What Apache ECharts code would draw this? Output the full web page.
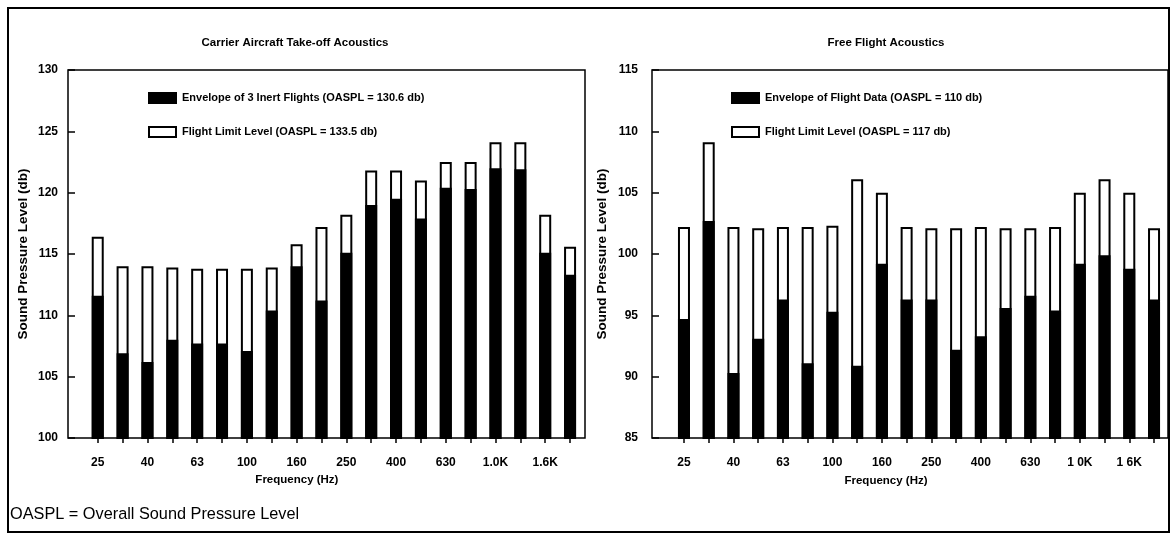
<!DOCTYPE html>
<html>
<head>
<meta charset="utf-8">
<script src="https://cdn.jsdelivr.net/npm/echarts@6/dist/echarts.min.js"></script>
<style>
html,body{margin:0;padding:0;background:#fff;}
#c{width:1171px;height:534px;}
</style>
</head>
<body>
<div id="c"></div>
<script>
// ---- data ----
const freqLabels = ['25','31.5','40','50','63','80','100','125','160','200','250','315','400','500','630','800','1.0K','1.25K','1.6K','2.0K'];
const freqLabelsRight = ['25','31.5','40','50','63','80','100','125','160','200','250','315','400','500','630','800','1 0K','1.25K','1 6K','2.0K'];

const carrierEnvelope = [111.6, 106.9, 106.2, 108.0, 107.7, 107.7, 107.1, 110.4, 114.0, 111.2, 115.1, 119.0, 119.5, 117.9, 120.4, 120.3, 122.0, 121.9, 115.1, 113.3];
const carrierLimit    = [116.4, 114.0, 114.0, 113.9, 113.8, 113.8, 113.8, 113.9, 115.8, 117.2, 118.2, 121.8, 121.8, 121.0, 122.5, 122.5, 124.1, 124.1, 118.2, 115.6];

const freeEnvelope = [94.7, 102.7, 90.3, 93.1, 96.3, 91.1, 95.3, 90.9, 99.2, 96.3, 96.3, 92.2, 93.3, 95.6, 96.6, 95.4, 99.2, 99.9, 98.8, 96.3];
const freeLimit    = [102.2, 109.1, 102.2, 102.1, 102.2, 102.2, 102.3, 106.1, 105.0, 102.2, 102.1, 102.1, 102.2, 102.1, 102.1, 102.2, 105.0, 106.1, 105.0, 102.1];

const leftTitle = 'Carrier Aircraft Take-off Acoustics';
const rightTitle = 'Free Flight Acoustics';
const leftEnvName = 'Envelope of 3 Inert Flights (OASPL = 130.6 db)';
const leftLimName = 'Flight Limit Level (OASPL = 133.5 db)';
const rightEnvName = 'Envelope of Flight Data (OASPL = 110 db)';
const rightLimName = 'Flight Limit Level (OASPL = 117 db)';
const yName = 'Sound Pressure Level (db)';
const xName = 'Frequency (Hz)';
const footNote = 'OASPL = Overall Sound Pressure Level';

// ---- chart ----
const FONT = 'Liberation Sans, Arial, Helvetica, sans-serif';
const chart = echarts.init(document.getElementById('c'), null, {renderer:'canvas'});

function xAxisCfg(gi, labels, gap, shift){
  return {
    type:'category', gridIndex:gi, data:labels,
    axisLine:{show:false},
    axisTick:{show:true, alignWithLabel:true, interval:0, length:5, lineStyle:{color:'#000', width:1.5}},
    axisLabel:{interval:1, color:'#000', fontFamily:FONT, fontWeight:'bold', fontSize:12, margin:19},
    name:xName, nameLocation:'middle', nameGap:gap,
    nameTextStyle:{color:'#000', fontFamily:FONT, fontWeight:'bold', fontSize:11.5, padding:[0,shift,0,0]}
  };
}
function yAxisCfg(gi, mn, mx, off, lm, ng){
  return {
    type:'value', gridIndex:gi, min:mn, max:mx, interval:5, offset:off,
    axisLine:{show:false},
    axisTick:{show:true, inside:true, length:7, lineStyle:{color:'#000', width:1.5}},
    axisLabel:{color:'#000', fontFamily:FONT, fontWeight:'bold', fontSize:12, margin:lm},
    splitLine:{show:false},
    name:yName, nameLocation:'middle', nameGap:ng, nameRotate:90,
    nameTextStyle:{color:'#000', fontFamily:FONT, fontWeight:'bold', fontSize:13.5}
  };
}
function limitSeries(name, data, xi){
  return {name:name, type:'bar', xAxisIndex:xi, yAxisIndex:xi, data:data, barWidth:12, barGap:'-100%',
    itemStyle:{color:'#fff', borderColor:'#000', borderWidth:2}, silent:true, z:2};
}
function envSeries(name, data, xi){
  return {name:name, type:'bar', xAxisIndex:xi, yAxisIndex:xi, data:data, barWidth:12, barGap:'-100%',
    itemStyle:{color:'#000', borderColor:'#000', borderWidth:2}, silent:true, z:3};
}
function legendCfg(names, left){
  return {
    data:names, left:left, top:92, padding:0, orient:'vertical', itemWidth:27, itemHeight:10, itemGap:22,
    icon:'rect', selectedMode:false,
    textStyle:{color:'#000', fontFamily:FONT, fontWeight:'bold', fontSize:11, padding:[0,0,0,1]}
  };
}
function txt(x, y, text, font, align){
  return {type:'text', x:x, y:y, silent:true, z:200,
    style:{text:text, font:font, fill:'#000', textAlign:align||'center', textVerticalAlign:'middle'}};
}
function frame(x, y, w, h, lw){
  return {type:'rect', shape:{x:x, y:y, width:w, height:h}, silent:true, z:150,
    style:{fill:null, stroke:'#000', lineWidth:lw}};
}

const option = {
  backgroundColor:'#fff',
  animation:false,
  grid:[
    {left:85.3, top:70, width:497.2, height:368},
    {left:671.6, top:70, width:494.8, height:368}
  ],
  xAxis:[ xAxisCfg(0, freqLabels, 36, 74), xAxisCfg(1, freqLabelsRight, 37, 66) ],
  yAxis:[ yAxisCfg(0, 100, 130, 17.3, 10, 38), yAxisCfg(1, 85, 115, 19.6, 14, 43) ],
  legend:[ legendCfg([leftEnvName, leftLimName], 148), legendCfg([rightEnvName, rightLimName], 731) ],
  series:[
    limitSeries(leftLimName, carrierLimit, 0),
    envSeries(leftEnvName, carrierEnvelope, 0),
    limitSeries(rightLimName, freeLimit, 1),
    envSeries(rightEnvName, freeEnvelope, 1)
  ],
  graphic:[
    frame(68, 70, 517, 368, 1.5),
    frame(652, 70, 516, 368, 1.5),
    frame(8, 8, 1161, 524, 2),
    txt(295, 43, leftTitle, 'bold 11.5px ' + FONT),
    txt(886, 43, rightTitle, 'bold 11.5px ' + FONT),
    txt(10, 515, footNote, '16.3px ' + FONT, 'left')
  ]
};
chart.setOption(option);
</script>
</body>
</html>
